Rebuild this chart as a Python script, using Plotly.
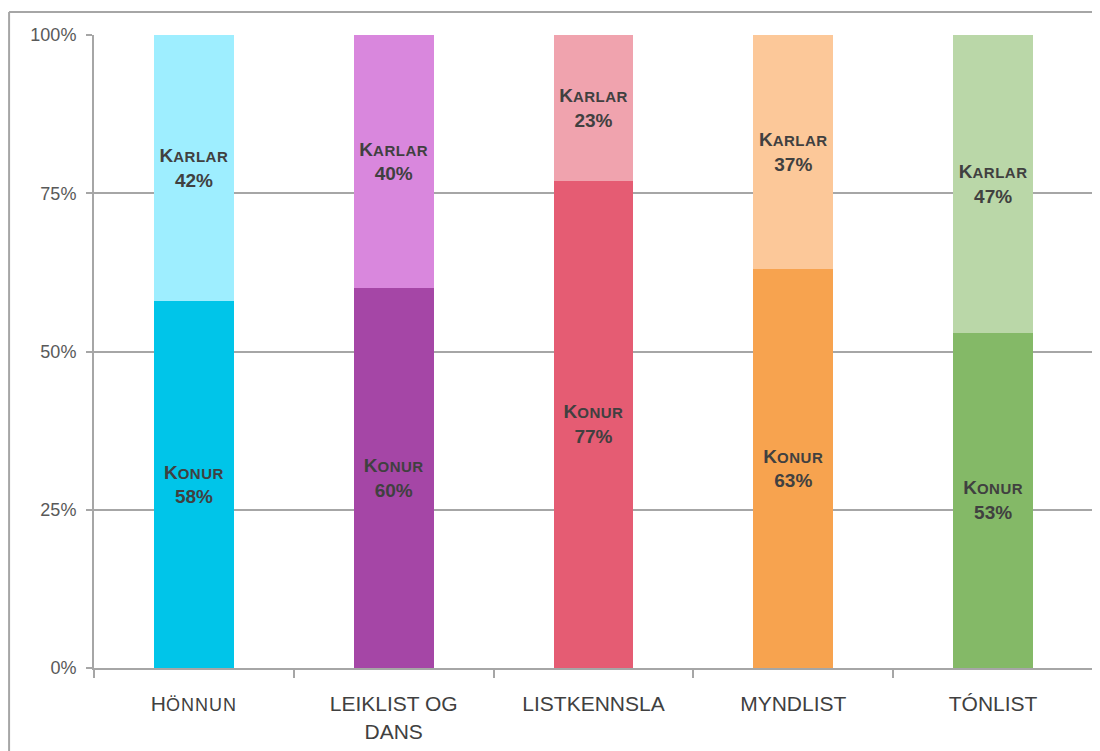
import plotly.graph_objects as go

categories = ["Hönnun", "Leiklist og dans", "Listkennsla", "Myndlist", "Tónlist"]
tick_labels = ["H<span style='font-size:18px;letter-spacing:1px'>ÖNNUN</span>", "LEIKLIST OG<br>DANS",
               "LISTKENNSLA", "MYNDLIST", "TÓNLIST"]
konur = [58, 60, 77, 63, 53]
karlar = [42, 40, 23, 37, 47]
konur_colors = ["#00C5E9", "#A546A6", "#E55C73", "#F7A34F", "#84B967"]
karlar_colors = ["#9EEEFF", "#D987DD", "#F0A3AE", "#FCC899", "#BAD7A8"]
y_ticks = [0, 25, 50, 75, 100]
y_tick_text = ["0%", "25%", "50%", "75%", "100%"]

FONT = "Arial, Liberation Sans, sans-serif"

def lab(word, v):
    return ("<b>" + word[0] + "<span style='font-size:15px;letter-spacing:0.5px'>" + word[1:].upper()
            + "</span><br>" + str(v) + "%</b>")

fig = go.Figure()
fig.add_trace(go.Bar(
    x=categories, y=konur, marker=dict(color=konur_colors, line=dict(width=0)),
    text=[lab("Konur", v) for v in konur], textposition="inside", insidetextanchor="middle",
    textfont=dict(family=FONT, size=19, color="#404040"),
    textangle=0, constraintext="none", name="Konur", hoverinfo="skip"))
fig.add_trace(go.Bar(
    x=categories, y=karlar, marker=dict(color=karlar_colors, line=dict(width=0)),
    text=[lab("Karlar", v) for v in karlar], textposition="inside", insidetextanchor="middle",
    textfont=dict(family=FONT, size=19, color="#404040"),
    textangle=0, constraintext="none", name="Karlar", hoverinfo="skip"))

fig.update_layout(
    barmode="stack", bargap=0.6, showlegend=False,
    width=1100, height=751,
    margin=dict(l=86, r=15, t=27, b=91, autoexpand=False),
    plot_bgcolor="white", paper_bgcolor="white",
    font=dict(family=FONT, color="#404040"),
    uniformtext=dict(mode=False),
)
fig.update_yaxes(
    range=[0, 100], tickmode="array", tickvals=y_ticks, ticktext=y_tick_text,
    showgrid=True, gridcolor="#A6A6A6", gridwidth=1.5,
    showline=True, linecolor="#A6A6A6", linewidth=2,
    ticks="outside", ticklen=6, tickcolor="#A6A6A6", tickwidth=1.5,
    tickfont=dict(size=18, color="#595959"), ticklabelstandoff=6,
    zeroline=False, automargin=False,
)
fig.update_xaxes(
    tickmode="array", tickvals=categories, ticktext=tick_labels,
    tickson="boundaries", ticks="outside", ticklen=8, tickcolor="#A6A6A6", tickwidth=1.5,
    showline=True, linecolor="#A6A6A6", linewidth=2,
    tickfont=dict(size=21, color="#404040"), ticklabelstandoff=16, automargin=False,
)
# outer frame
frame = dict(color="#A6A6A6", width=2)
fig.add_shape(type="line", xref="paper", yref="paper", x0=-0.085, x1=-0.085, y0=1.0363, y1=-0.2, line=frame)
fig.add_shape(type="line", xref="paper", yref="paper", x0=-0.085, x1=1.06, y0=1.0363, y1=1.0363, line=frame)

fig.write_html("out.html")
